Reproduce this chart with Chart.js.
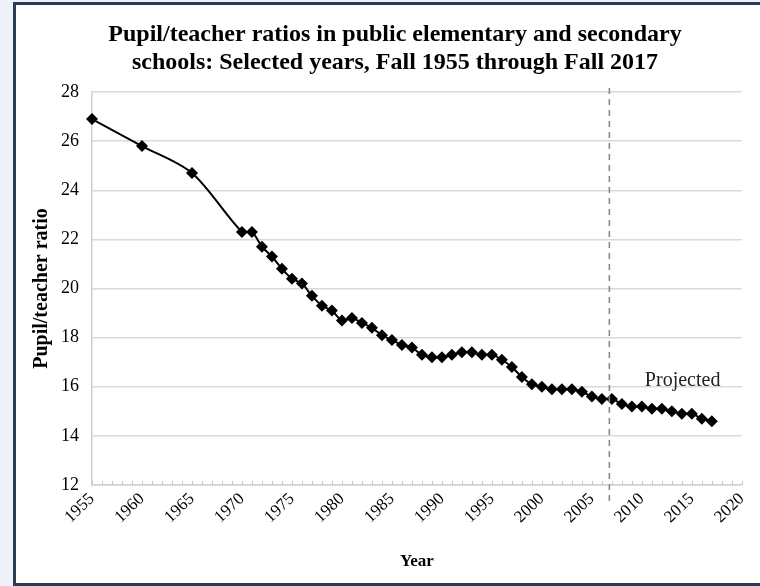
<!DOCTYPE html>
<html>
<head>
<meta charset="utf-8">
<script src="https://cdn.jsdelivr.net/npm/chart.js@4.4.1/dist/chart.umd.min.js"></script>
<style>
  html, body { margin: 0; padding: 0; }
  body { width: 760px; height: 586px; background: #eef2f8; position: relative; overflow: hidden; }
  #frame { position: absolute; left: 13px; top: 2px; width: 744px; height: 578px;
           border-left: 3px solid #2b3c54; border-top: 3px solid #2b3c54; border-bottom: 3px solid #2b3c54;
           background: #ffffff; }
  #frame canvas { display: block; }
</style>
</head>
<body>
<div id="frame"><canvas id="c" width="744" height="578"></canvas></div>
<script>
// ---- data ----
const titleLines = ["Pupil/teacher ratios in public elementary and secondary",
                    "schools: Selected years, Fall 1955 through Fall 2017"];
const years = [1955, 1960, 1965, 1970, 1971, 1972, 1973, 1974, 1975, 1976, 1977, 1978, 1979,
               1980, 1981, 1982, 1983, 1984, 1985, 1986, 1987, 1988, 1989, 1990, 1991, 1992,
               1993, 1994, 1995, 1996, 1997, 1998, 1999, 2000, 2001, 2002, 2003, 2004, 2005,
               2006, 2007, 2008, 2009, 2010, 2011, 2012, 2013, 2014, 2015, 2016, 2017];
const ratios = [26.9, 25.8, 24.7, 22.3, 22.3, 21.7, 21.3, 20.8, 20.4, 20.2, 19.7, 19.3, 19.1,
                18.7, 18.8, 18.6, 18.4, 18.1, 17.9, 17.7, 17.6, 17.3, 17.2, 17.2, 17.3, 17.4,
                17.4, 17.3, 17.3, 17.1, 16.8, 16.4, 16.1, 16.0, 15.9, 15.9, 15.9, 15.8, 15.6,
                15.5, 15.5, 15.3, 15.2, 15.2, 15.1, 15.1, 15.0, 14.9, 14.9, 14.7, 14.6];
const xTickLabels = ["1955","1960","1965","1970","1975","1980","1985","1990","1995","2000","2005","2010","2015","2020"];
const yTickLabels = ["12","14","16","18","20","22","24","26","28"];
const projectionStart = 2006.75;
const projectedLabel = { text: "Projected", x: 2010.3, y: 16.05 };

const serif = "'Liberation Serif', 'Times New Roman', Times, serif";

const overlay = {
  id: 'overlay',
  afterDatasetsDraw(chart) {
    const { ctx, chartArea, scales: { x, y } } = chart;
    ctx.save();
    // minor ticks on x axis (inside)
    ctx.strokeStyle = '#c8c8c8';
    ctx.lineWidth = 1;
    for (let yr = 1955; yr <= 2020; yr++) {
      const px = Math.round(x.getPixelForValue(yr)) + 0.5;
      ctx.beginPath();
      ctx.moveTo(px, chartArea.bottom);
      ctx.lineTo(px, chartArea.bottom - 4);
      ctx.stroke();
    }
    // projection divider
    const dx = x.getPixelForValue(projectionStart);
    ctx.strokeStyle = '#8a8a8a';
    ctx.lineWidth = 1.6;
    ctx.setLineDash([6, 5]);
    ctx.beginPath();
    ctx.moveTo(dx, chartArea.top - 4);
    ctx.lineTo(dx, chartArea.bottom + 16);
    ctx.stroke();
    ctx.setLineDash([]);
    // projected label
    ctx.fillStyle = '#222222';
    ctx.font = "20px " + serif;
    ctx.textAlign = 'left';
    ctx.textBaseline = 'alphabetic';
    ctx.fillText(projectedLabel.text, x.getPixelForValue(projectedLabel.x), y.getPixelForValue(projectedLabel.y));
    // title
    ctx.fillStyle = '#000000';
    ctx.font = "bold 24px " + serif;
    ctx.textAlign = 'center';
    ctx.textBaseline = 'middle';
    ctx.fillText(titleLines[0], 379, 30);
    ctx.fillText(titleLines[1], 379, 58);
    ctx.restore();
  }
};

new Chart(document.getElementById('c'), {
  type: 'line',
  data: {
    datasets: [{
      data: years.map((yr, i) => ({ x: yr, y: ratios[i] })),
      borderColor: '#000000',
      backgroundColor: '#000000',
      borderWidth: 2,
      tension: 0.3,
      clip: false,
      pointStyle: 'rectRot',
      pointRadius: 6,
      pointHoverRadius: 6,
      pointBackgroundColor: '#000000',
      pointBorderColor: '#000000',
      pointBorderWidth: 0
    }]
  },
  options: {
    responsive: false,
    animation: false,
    layout: { padding: { top: 87, right: 18, bottom: 0, left: 0 } },
    plugins: { legend: { display: false }, tooltip: { enabled: false }, title: { display: false } },
    scales: {
      x: {
        type: 'linear',
        min: 1955, max: 2020,
        afterFit(s) { s.height = 98; },
        afterBuildTicks(s) { s.ticks = xTickLabels.map(v => ({ value: Number(v) })); },
        ticks: {
          callback: (v) => String(v),
          minRotation: 44, maxRotation: 44,
          padding: 4,
          color: '#000000',
          font: { family: serif, size: 17 }
        },
        grid: { display: false, drawTicks: false },
        border: { display: true, color: '#cfcfcf', width: 1.5 },
        title: { display: true, text: 'Year', color: '#000000',
                 font: { family: serif, size: 17, weight: 'bold' }, padding: { top: 0, bottom: 11 } }
      },
      y: {
        min: 12, max: 28,
        afterFit(s) { s.width = 76; },
        afterBuildTicks(s) { s.ticks = yTickLabels.map(v => ({ value: Number(v) })); },
        ticks: { padding: 13, color: '#000000', font: { family: serif, size: 18 } },
        grid: { color: '#d9d9d9', lineWidth: 1.5, drawTicks: false },
        border: { display: true, color: '#cfcfcf', width: 1.5 },
        title: { display: true, text: 'Pupil/teacher ratio', color: '#000000',
                 font: { family: serif, size: 20, weight: 'bold' }, padding: { top: 14, bottom: 0 } }
      }
    }
  },
  plugins: [overlay]
});
</script>
</body>
</html>
